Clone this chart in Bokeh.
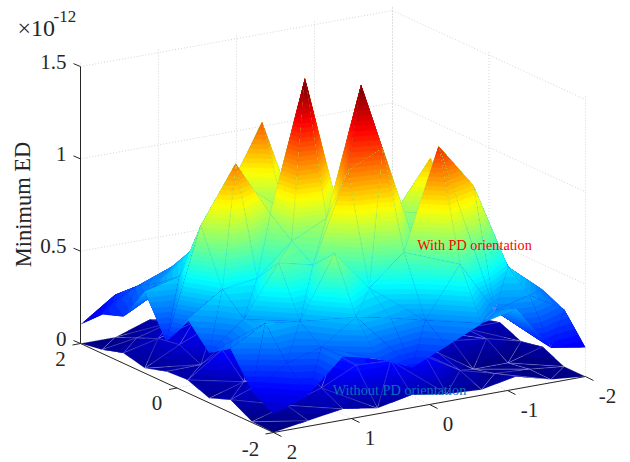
from bokeh.plotting import figure
from bokeh.models import Range1d
from bokeh.embed import file_html
from bokeh.resources import INLINE
from bokeh.core.properties import value

# ---- data (units of 1e-12), rows: y index from -2 to 2, columns: x index from 2 to -2
x_grid = [2 - 4 * i / 9 for i in range(10)]
y_grid = [-2 + 4 * j / 9 for j in range(10)]

z_with = [
    [.10, .17, .345, .30, .217, .30, .388, .436, .19, .157],
    [.17, .287, .34, .47, .43, .385, .654, .37, .42, .31],
    [.348, .45, .427, .76, .54, .70, 1.24, .995, .52, .363],
    [.27, .42, .69, .645, 1.12, 1.21, .62, .78, .66, .325],
    [.40, .526, .553, .72, .81, 1.50, .78, 1.035, .55, .30],
    [.225, .82, 1.12, .815, 1.515, .74, .60, .55, .38, .28],
    [.443, .49, .84, .90, .75, .80, .65, .50, .35, .28],
    [.253, .40, .55, .82, 1.17, .62, .55, .42, .30, .22],
    [.21, .33, .40, .50, .55, .50, .40, .33, .25, .18],
    [.103, .23, .27, .32, .30, .30, .25, .22, .18, .12],
]
z_without = [
    [0, .03, .06, .03, .069, .04, .03, .068, .017, 0],
    [.005, .06, .12, .21, .20, .19, .08, .03, .02, 0],
    [.07, .14, .20, .22, .22, .20, .12, 0, 0, .054],
    [.025, .08, .20, .25, .25, .20, .12, .10, .078, .03],
    [.07, .20, .25, .25, .25, .20, .15, .10, .08, .08],
    [.063, .066, .20, .25, .25, .20, .15, .10, .08, .05],
    [.027, .12, .20, .22, .22, .20, .15, .10, .06, .04],
    [.055, .10, .15, .20, .20, .15, .12, .08, .05, .03],
    [.02, .05, .10, .12, .12, .10, .08, .05, .03, .01],
    [0, 0, .063, .03, .05, .05, .04, .03, .01, 0],
]
# grid cells of the upper surface whose diagonal runs up through the peak, as read from the creases
rising_diagonal_cells = [(1, 4), (2, 3), (3, 4), (4, 3)]
z_ticks = [0, 0.5, 1, 1.5]
z_labels = ["0", "0.5", "1", "1.5"]
x_ticks = [2, 1, 0, -1, -2]
x_labels = ["2", "1", "0", "-1", "-2"]
y_ticks = [2, 0, -2]
y_labels = ["2", "0", "-2"]
z_max = 1.48
n_colors = 64

INK = "#262626"
SERIF = value("Liberation Serif")


def proj(x, y, z=0.0):
    """Orthographic view of the axes box, in page pixels."""
    u = (2 - x) / 4
    v = (y + 2) / 4
    return 273 + 312 * u - 193 * v, 432 - 56 * u - 89 * v - 184.6 * z


def depth(x, y, z):
    return 3.34 * proj(x, y, 0)[1] + 55.3 * z


def jet(k):
    t = (k + 0.5) / n_colors
    c = [min(1, max(0, 1.5 - abs(4 * t - s))) for s in (3, 2, 1)]
    return "#%02x%02x%02x" % tuple(int(round(255 * a)) for a in c)


def clip_above(poly, level):
    out = []
    for a, b in zip(poly, poly[1:] + poly[:1]):
        ina, inb = a[2] >= level, b[2] >= level
        if ina:
            out.append(a)
        if ina != inb:
            t = (level - a[2]) / (b[2] - a[2])
            out.append(tuple(a[m] + t * (b[m] - a[m]) for m in range(3)))
    return out


def triangles(zz, flips):
    tris = []
    for j in range(9):
        for i in range(9):
            a = (x_grid[i], y_grid[j], zz[j][i])
            b = (x_grid[i + 1], y_grid[j], zz[j][i + 1])
            c = (x_grid[i + 1], y_grid[j + 1], zz[j + 1][i + 1])
            d = (x_grid[i], y_grid[j + 1], zz[j + 1][i])
            if a[2] + c[2] <= b[2] + d[2] or (i, j) in flips:
                tris += [[a, b, c], [a, c, d]]
            else:
                tris += [[a, b, d], [b, c, d]]
    return tris


def surface_patches(zz, flips, mesh_color, mesh_alpha):
    xs, ys, fills, falpha, lcol, lalpha = [], [], [], [], [], []
    tris = triangles(zz, flips)
    tris.sort(key=lambda t: sum(depth(*q) for q in t) / 3)
    for tri in tris:
        zmin = min(q[2] for q in tri)
        zmax = max(q[2] for q in tri)
        k0 = min(n_colors - 1, int(zmin / z_max * n_colors))
        k1 = min(n_colors - 1, int(zmax / z_max * n_colors))
        for k in range(k0, k1 + 1):
            poly = tri if k == k0 else clip_above(tri, k * z_max / n_colors)
            if len(poly) < 3:
                continue
            pts = [proj(*q) for q in poly]
            xs.append([q[0] for q in pts])
            ys.append([q[1] for q in pts])
            fills.append(jet(k)); falpha.append(1.0)
            lcol.append(mesh_color); lalpha.append(0.0)
        pts = [proj(*q) for q in tri]
        xs.append([q[0] for q in pts])
        ys.append([q[1] for q in pts])
        fills.append("#000000"); falpha.append(0.0)
        lcol.append(mesh_color); lalpha.append(mesh_alpha)
    return dict(xs=xs, ys=ys, fill_color=fills, fill_alpha=falpha, line_color=lcol, line_alpha=lalpha)


p = figure(width=630, height=462, output_backend="svg", toolbar_location=None,
           x_range=Range1d(0, 630), y_range=Range1d(462, 0), min_border=0)
p.axis.visible = False
p.grid.visible = False
p.outline_line_color = None
p.background_fill_color = "white"

# dotted grid on floor and walls
gx0, gy0, gx1, gy1 = [], [], [], []


def gline(a, b):
    pa, pb = proj(*a), proj(*b)
    gx0.append(pa[0]); gy0.append(pa[1]); gx1.append(pb[0]); gy1.append(pb[1])


top = z_ticks[-1] + 0.028
for z in z_ticks:
    gline((2, 2, z), (-2, 2, z))
    gline((-2, 2, z), (-2, -2, z))
for x in x_ticks:
    gline((x, 2, 0), (x, 2, top))
    gline((x, -2, 0), (x, 2, 0))
for y in y_ticks:
    gline((-2, y, 0), (-2, y, top))
    gline((2, y, 0), (-2, y, 0))
p.segment(gx0, gy0, gx1, gy1, line_color="#d4d4d4", line_width=1, line_dash="1 2")

# surfaces: the lower one first, the upper one back to front
low = surface_patches(z_without, [], "#ffffff", 0.26)
p.patches(low.pop("xs"), low.pop("ys"), line_width=0.6, **low)
up = surface_patches(z_with, rising_diagonal_cells, "#1a5cff", 0.12)
p.patches(up.pop("xs"), up.pop("ys"), line_width=0.6, **up)

# axis lines and ticks
ax = [((2, 2, 0), (2, 2, z_ticks[-1])), ((2, 2, 0), (2, -2, 0)), ((2, -2, 0), (-2, -2, 0))]
x0 = [proj(*a)[0] for a, b in ax]
y0 = [proj(*a)[1] for a, b in ax]
x1 = [proj(*b)[0] for a, b in ax]
y1 = [proj(*b)[1] for a, b in ax]
p.segment(x0, y0, x1, y1, line_color=INK, line_width=1)

tx0, ty0, tx1, ty1 = [], [], [], []
for z in z_ticks:
    a = proj(2, 2, z); tx0.append(a[0]); ty0.append(a[1]); tx1.append(a[0] - 7); ty1.append(a[1] - 3)
for y in y_ticks:
    a = proj(2, y, 0); tx0.append(a[0]); ty0.append(a[1]); tx1.append(a[0] - 8); ty1.append(a[1] + 1.5)
for x in x_ticks:
    a = proj(x, -2, 0); tx0.append(a[0]); ty0.append(a[1]); tx1.append(a[0] + 8); ty1.append(a[1] + 4)
p.segment(tx0, ty0, tx1, ty1, line_color=INK, line_width=1)

# tick labels
zp = [proj(2, 2, z) for z in z_ticks]
p.text([q[0] - 14 for q in zp], [q[1] - 5 for q in zp], text=z_labels, text_font=SERIF,
       text_font_size="21px", text_color=INK, text_align="right", text_baseline="middle")
yp = [proj(2, y, 0) for y in y_ticks]
p.text([q[0] - (23 if l.startswith("-") else 20) for q, l in zip(yp, y_labels)],
       [q[1] + (16.5 if l.startswith("-") else 15) for q, l in zip(yp, y_labels)], text=y_labels, text_font=SERIF,
       text_font_size="21px", text_color=INK, text_align="center", text_baseline="middle")
xp = [proj(x, -2, 0) for x in x_ticks]
p.text([q[0] + (22 if l.startswith("-") else 18.5) for q, l in zip(xp, x_labels)],
       [q[1] + 19 for q in xp], text=x_labels, text_font=SERIF,
       text_font_size="21px", text_color=INK, text_align="center", text_baseline="middle")

# titles and annotations
p.text([22.5], [204], text=["Minimum ED"], angle=1.5708, text_font=SERIF, text_font_size="22.5px",
       text_color=INK, text_align="center", text_baseline="middle")
p.text([17], [27], text=["\u00d710"], text_font=SERIF, text_font_size="24px",
       text_color=INK, text_align="left", text_baseline="alphabetic")
p.text([53], [16], text=["-12"], text_font=SERIF, text_font_size="17px",
       text_color=INK, text_align="left", text_baseline="alphabetic")
p.text([474], [244], text=["With PD orientation"], text_font=SERIF, text_font_size="14.2px",
       text_color="#ff0000", text_align="center", text_baseline="middle")
p.text([399], [389], text=["Without PD orientation"], text_font=SERIF, text_font_size="14.3px",
       text_color="#0a6ebd", text_align="center", text_baseline="middle")

open("out.html", "w").write(file_html(p, INLINE))
